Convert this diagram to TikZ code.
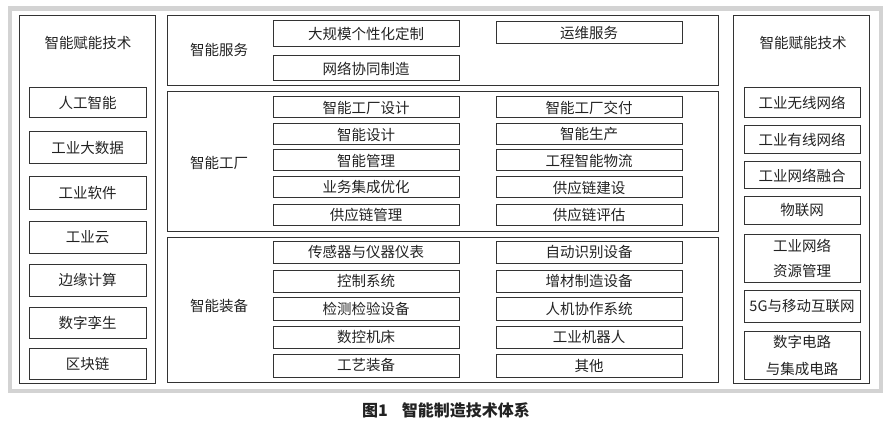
\documentclass[tikz,border=0pt]{standalone}
\usepackage{fontspec}
\setmainfont{Noto Sans CJK SC}
\newfontfamily\capfont{Noto Sans CJK SC}
\definecolor{framegray}{HTML}{D3D3D3}
\definecolor{linec}{HTML}{333333}
\definecolor{textc}{HTML}{222222}
\begin{document}
\begin{tikzpicture}[x=1pt,y=-1pt,
  every node/.style={text=textc,font=\fontsize{14.5}{25}\selectfont},
  panel/.style={draw=linec,line width=1pt,inner sep=0pt},
  itembox/.style={draw=linec,line width=1pt,inner sep=0pt,align=center},
  lbl/.style={inner sep=0pt}]
\useasboundingbox (0,0) rectangle (892,425);
% gray frame
\draw[framegray,line width=4.5pt] (10,8.5) rectangle (881,391);
% panels
\node[panel,minimum width=136pt,minimum height=367pt] (lp) at (87,199.5) {};
\node[panel,minimum width=136pt,minimum height=367pt] (rp) at (801,199.5) {};
\node[panel,minimum width=551pt,minimum height=70pt] (sp) at (442.5,51) {};
\node[panel,minimum width=551pt,minimum height=139pt] (fp) at (442.5,161.5) {};
\node[panel,minimum width=551pt,minimum height=145pt] (ep) at (442.5,309.5) {};
% titles
\node[lbl] (lt) at (88,43) {智能赋能技术};
\node[lbl] (rt) at (803,43) {智能赋能技术};
\node[lbl] (st) at (219,50) {智能服务};
\node[lbl] (ft) at (219,163) {智能工厂};
\node[lbl] (et) at (219,306) {智能装备};
% left items
\tikzset{lbox/.style={itembox,minimum width=117pt}}
\node[lbox,minimum height=30pt] (l1) at (87.5,103) {人工智能};
\node[lbox,minimum height=32pt] (l2) at (87.5,148) {工业大数据};
\node[lbox,minimum height=32pt] (l3) at (87.5,193) {工业软件};
\node[lbox,minimum height=32pt] (l4) at (87.5,237) {工业云};
\node[lbox,minimum height=32pt] (l5) at (87.5,280) {边缘计算};
\node[lbox,minimum height=31pt] (l6) at (87.5,322.5) {数字孪生};
\node[lbox,minimum height=31pt] (l7) at (87.5,363.5) {区块链};
% right items
\tikzset{rbox/.style={itembox,minimum width=116pt}}
\node[rbox,minimum height=30pt] (r1) at (802,103) {工业无线网络};
\node[rbox,minimum height=28pt] (r2) at (802,140) {工业有线网络};
\node[rbox,minimum height=27pt] (r3) at (802,175.5) {工业网络融合};
\node[rbox,minimum height=27pt] (r4) at (802,210.5) {物联网};
\node[rbox,minimum height=48pt] (r5) at (802,258) {工业网络\\资源管理};
\node[rbox,minimum height=32pt] (r6) at (802,306) {5G与移动互联网};
\node[rbox,minimum height=48pt,font=\fontsize{14.5}{27}\selectfont] (r7) at (802,355) {数字电路\\与集成电路};
% middle items
\tikzset{mbox/.style={itembox,minimum width=186pt}}
\node[mbox,minimum height=26pt] (s1) at (366,34) {大规模个性化定制};
\node[mbox,minimum height=22pt] (s2) at (589,33) {运维服务};
\node[mbox,minimum height=25pt] (s3) at (366,68.5) {网络协同制造};
\node[mbox,minimum height=21pt] (f1) at (366,107.5) {智能工厂设计};
\node[mbox,minimum height=21pt] (f2) at (589,107.5) {智能工厂交付};
\node[mbox,minimum height=21pt] (f3) at (366,134.5) {智能设计};
\node[mbox,minimum height=21pt] (f4) at (589,134.5) {智能生产};
\node[mbox,minimum height=21pt] (f5) at (366,160.5) {智能管理};
\node[mbox,minimum height=21pt] (f6) at (589,160.5) {工程智能物流};
\node[mbox,minimum height=21pt] (f7) at (366,187.5) {业务集成优化};
\node[mbox,minimum height=21pt] (f8) at (589,187.5) {供应链建设};
\node[mbox,minimum height=21pt] (f9) at (366,214.5) {供应链管理};
\node[mbox,minimum height=21pt] (f10) at (589,214.5) {供应链评估};
\node[mbox,minimum height=22pt] (e1) at (366,252) {传感器与仪器仪表};
\node[mbox,minimum height=22pt] (e2) at (589,252) {自动识别设备};
\node[mbox,minimum height=22pt] (e3) at (366,281) {控制系统};
\node[mbox,minimum height=22pt] (e4) at (589,281) {增材制造设备};
\node[mbox,minimum height=23pt] (e5) at (366,308.5) {检测检验设备};
\node[mbox,minimum height=23pt] (e6) at (589,308.5) {人机协作系统};
\node[mbox,minimum height=22pt] (e7) at (366,337) {数控机床};
\node[mbox,minimum height=22pt] (e8) at (589,337) {工业机器人};
\node[mbox,minimum height=23pt] (e9) at (366,365.5) {工艺装备};
\node[mbox,minimum height=23pt] (e10) at (589,365.5) {其他};
% caption
\node[lbl,font=\capfont\bfseries\fontsize{16}{18}\selectfont] (cap) at (446,410) {图1\hspace{14pt}智能制造技术体系};
\end{tikzpicture}
\end{document}
